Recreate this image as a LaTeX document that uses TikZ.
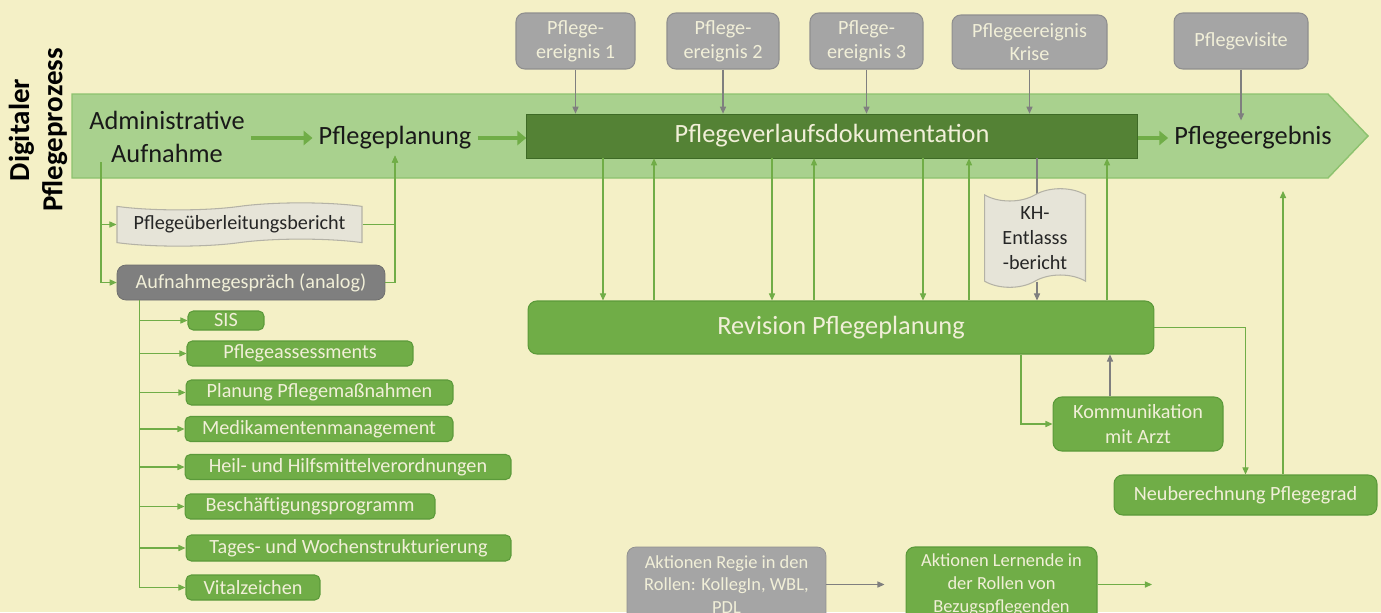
\documentclass[tikz,border=0pt]{standalone}
\usepackage{fontspec}
\setmainfont{Carlito}
\usepackage{tikz}
\usetikzlibrary{shapes.symbols, arrows.meta, positioning, backgrounds}
\definecolor{paper}{HTML}{F4F0C6}
\definecolor{bandgreen}{HTML}{A9D18E}
\definecolor{bandedge}{HTML}{8DC26F}
\definecolor{darkgreen}{HTML}{548235}
\definecolor{darkedge}{HTML}{3E6A26}
\definecolor{midgreen}{HTML}{70AD47}
\definecolor{edgegreen}{HTML}{5B9A3A}
\definecolor{evgray}{HTML}{A5A5A5}
\definecolor{evedge}{HTML}{8F8F8F}
\definecolor{talkgray}{HTML}{7F7F7F}
\definecolor{docgray}{HTML}{E6E4D8}
\definecolor{docedge}{HTML}{B4B2A6}
\definecolor{cream}{HTML}{F1EFD8}
\definecolor{linegray}{HTML}{7F7F7F}
\tikzstyle{evbox} = [rectangle, rounded corners=5pt, minimum height=1.12cm, align=center,
  draw=evedge, fill=evgray, text=cream, font=\fontsize{11.5}{13.5}\selectfont, line width=0.6pt]
\tikzstyle{listbox} = [rectangle, rounded corners=3pt, minimum height=0.5cm, inner sep=1pt,
  draw=edgegreen, fill=midgreen, text=cream, font=\fontsize{11.5}{13.5}\selectfont, line width=0.6pt]
\tikzstyle{greenbox} = [rectangle, rounded corners=5pt, align=center, draw=edgegreen, fill=midgreen,
  text=cream, font=\fontsize{11.5}{14}\selectfont, line width=0.6pt]
\tikzstyle{docbox} = [tape, tape bend top=in and out, tape bend bottom=in and out, align=center,
  draw=docedge, fill=docgray, text=black!85, font=\fontsize{11.5}{14}\selectfont, line width=0.6pt]
\tikzstyle{bandtext} = [align=center, text=black!90, font=\fontsize{15}{19}\selectfont]
\tikzstyle{gline} = [draw=midgreen, line width=0.6pt]
\tikzstyle{garrow} = [draw=midgreen, line width=0.6pt, -{Triangle[length=4pt, width=3.5pt]}]
\tikzstyle{grayarrow} = [draw=linegray, line width=0.6pt, -{Triangle[length=4pt, width=3.5pt]}]
\tikzstyle{bandarrow} = [draw=midgreen, line width=2.4pt, -{Triangle[length=5pt, width=8pt]}]

\begin{document}
\begin{tikzpicture}[x=0.02cm, y=-0.02cm]
  % Background
  \useasboundingbox (0,0) rectangle (1381,612);
  \fill[paper] (0,0) rectangle (1381,612);
  \clip (0,0) rectangle (1381,612);

  % Process band
  \filldraw[fill=bandgreen, draw=bandedge, line width=0.8pt]
    (72,94) -- (1328,94) -- (1368,136) -- (1328,178) -- (72,178) -- cycle;
  \coordinate (bandbase) at (0,178);
  \node (title) [rotate=90, align=center, font=\fontsize{16.5}{19}\selectfont\bfseries] at (38,130)
    {Digitaler\\Pflegeprozess};

  \node (admin) [bandtext] at (167,137) {Administrative\\Aufnahme};
  \node (plan) [bandtext] at (395,138) {Pflegeplanung};
  \node (pvd) [rectangle, minimum width=12.22cm, minimum height=0.88cm, fill=darkgreen, draw=darkedge,
    text=cream, font=\fontsize{15}{18}\selectfont] at (832,136) {Pflegeverlaufsdokumentation};
  \node (result) [bandtext] at (1253,138) {Pflegeergebnis};

  \draw[bandarrow] (admin.east |- plan.west) -- (plan.west);
  \draw[bandarrow] (plan.east) -- (pvd.west |- plan.east);
  \draw[bandarrow] (pvd.east |- result.west) -- (result.west);

  % Events
  \node (ev1) [evbox, minimum width=2.38cm] at (575.5,41) {Pflege-\\ereignis 1};
  \node (ev2) [evbox, minimum width=2.24cm] at (723,41) {Pflege-\\ereignis 2};
  \node (ev3) [evbox, minimum width=2.26cm] at (866.5,41) {Pflege-\\ereignis 3};
  \node (crisis) [evbox, minimum width=3.1cm, minimum height=1.08cm] at (1029.5,42) {Pflegeereignis\\Krise};
  \node (visit) [evbox, minimum width=2.68cm] at (1241,41) {Pflegevisite};

  \draw[grayarrow] (ev1) -- (ev1 |- pvd.north);
  \draw[grayarrow] (ev2) -- (ev2 |- pvd.north);
  \draw[grayarrow] (ev3) -- (ev3 |- pvd.north);
  \draw[grayarrow] (crisis) -- (crisis |- pvd.north);
  \draw[grayarrow] (visit) -- (visit |- result.north);

  % Admission
  \node (report) [docbox, minimum width=4.9cm, minimum height=0.86cm, tape bend height=4pt] at (239.5,224.5)
    {Pflegeüberleitungsbericht};
  \node (talk) [rectangle, rounded corners=5pt, minimum width=5.36cm, minimum height=0.7cm, fill=talkgray,
    draw=talkgray!85!black, text=cream, font=\fontsize{11.5}{14}\selectfont] at (251,282.5)
    {Aufnahmegespräch (analog)};
  \coordinate (admfork) at (101,162);
  \draw[garrow] (admfork) |- (report.west);
  \draw[garrow] (admfork) |- (talk.west);
  \draw[garrow] (report.east) -| (plan.south);
  \draw[garrow] (talk.east) -| (plan.south);

  % Assessment list
  \node (sis) [listbox, minimum width=1.52cm, minimum height=0.38cm] at (226,320.5) {SIS};
  \node (assess) [listbox, minimum width=4.52cm] at (300,353.5) {Pflegeassessments};
  \node (measures) [listbox, minimum width=5.34cm] at (319.5,392.5) {Planung Pflegemaßnahmen};
  \node (meds) [listbox, minimum width=5.36cm] at (319,429) {Medikamentenmanagement};
  \node (aids) [listbox, minimum width=6.52cm] at (348,467) {Heil- und Hilfsmittelverordnungen};
  \node (activity) [listbox, minimum width=5.0cm] at (310,506.5) {Beschäftigungsprogramm};
  \node (week) [listbox, minimum width=6.5cm, minimum height=0.52cm] at (348.5,548) {Tages- und Wochenstrukturierung};
  \node (vital) [listbox, minimum width=2.68cm] at (253,587.5) {Vitalzeichen};

  \draw[garrow] (talk.south west) ++(23,0) |- (sis.west);
  \draw[garrow] (talk.south west) ++(23,0) |- (assess.west);
  \draw[garrow] (talk.south west) ++(23,0) |- (measures.west);
  \draw[garrow] (talk.south west) ++(23,0) |- (meds.west);
  \draw[garrow] (talk.south west) ++(23,0) |- (aids.west);
  \draw[garrow] (talk.south west) ++(23,0) |- (activity.west);
  \draw[garrow] (talk.south west) ++(23,0) |- (week.west);
  \draw[garrow] (talk.south west) ++(23,0) |- (vital.west);

  % Revision
  \node (rev) [greenbox, minimum width=12.52cm, minimum height=1.06cm, font=\fontsize{15}{18}\selectfont]
    at (841,327.5) {Revision Pflegeplanung};

  \coordinate (d1) at (603,0);
  \coordinate (u1) at (654,0);
  \coordinate (d2) at (772,0);
  \coordinate (u2) at (814,0);
  \coordinate (d3) at (923,0);
  \coordinate (u3) at (969,0);
  \coordinate (u4) at (1107,0);
  \draw[garrow] (pvd.south -| d1) -- (rev.north -| d1);
  \draw[garrow] (rev.north -| u1) -- (pvd.south -| u1);
  \draw[garrow] (pvd.south -| d2) -- (rev.north -| d2);
  \draw[garrow] (rev.north -| u2) -- (pvd.south -| u2);
  \draw[garrow] (pvd.south -| d3) -- (rev.north -| d3);
  \draw[garrow] (rev.north -| u3) -- (pvd.south -| u3);
  \draw[garrow] (rev.north -| u4) -- (pvd.south -| u4);

  % Hospital discharge
  \coordinate (kx) at (1037,200);
  \draw[draw=linegray, line width=0.6pt] (pvd.south -| kx) -- (kx);
  \node (kh) [docbox, minimum width=2.02cm, minimum height=1.86cm, tape bend height=7pt] at (1035,238)
    {KH-\\Entlasss\\-bericht};
  \draw[grayarrow] (kh.south -| kx) -- (rev.north -| kx);

  % Doctor and care grade
  \node (doc) [greenbox, minimum width=3.4cm, minimum height=1.08cm] at (1138,424) {Kommunikation\\mit Arzt};
  \node (grade) [greenbox, minimum width=5.26cm, minimum height=0.8cm] at (1245.5,495) {Neuberechnung Pflegegrad};
  \coordinate (k1) at (1021,0);
  \coordinate (k2) at (1110,0);
  \coordinate (k3) at (1283,0);
  \draw[garrow] (rev.south -| k1) |- (doc.west);
  \draw[grayarrow] (doc.north -| k2) -- (rev.south -| k2);
  \draw[garrow] (rev.east) -| (grade.north);
  \draw[garrow, shorten >=0.26cm] (grade.north -| k3) -- (bandbase -| k3);

  % Roles
  \node (regie) [rectangle, rounded corners=5pt, minimum width=3.98cm, minimum height=1.5cm, align=center,
    fill=evgray, draw=evedge, text=cream, font=\fontsize{10.5}{13}\selectfont] at (726.5,584.5)
    {Aktionen Regie in den\\Rollen: KollegIn, WBL,\\PDL};
  \node (learn) [greenbox, minimum width=3.82cm, minimum height=1.5cm, font=\fontsize{10.5}{13}\selectfont]
    at (1001.5,584.5) {Aktionen Lernende in\\der Rollen von\\Bezugspflegenden};
  \coordinate (learnout) at (1152,584.5);
  \draw[grayarrow, shorten >=0.42cm] (regie.east) -- (learn.west);
  \draw[garrow] (learn.east) -- (learnout);
\end{tikzpicture}
\end{document}
